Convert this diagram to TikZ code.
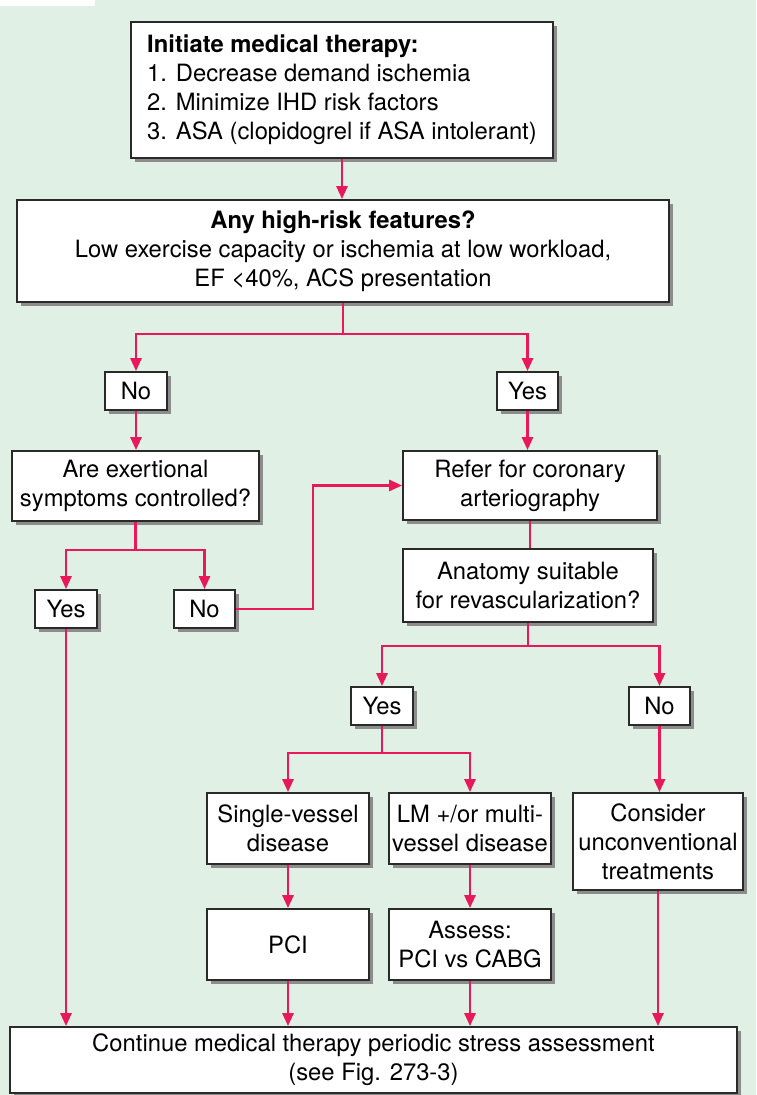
\documentclass[tikz,border=0pt]{standalone}
\usepackage{fontspec}
\setmainfont{TeX Gyre Heros}
\usetikzlibrary{arrows.meta,shadows}
\definecolor{bg}{HTML}{E0F0E4}
\definecolor{arrowc}{HTML}{E8185A}
\definecolor{boxline}{HTML}{2A2A2A}
\definecolor{shadowc}{HTML}{8C8C8C}
\begin{document}
\begin{tikzpicture}[x=1pt,y=-1pt,
  box/.style={draw=boxline, line width=1.8pt, fill=white,
    drop shadow={shadow xshift=4pt, shadow yshift=-4pt, fill=shadowc, opacity=1},
    align=center, inner sep=0pt, font=\fontsize{23.8}{29}\selectfont},
  wire/.style={draw=arrowc, line width=2.7pt},
  arr/.style={wire, -{Triangle[length=13pt,width=11pt]}}]
\fill[bg] (0,0) rectangle (756,1095);
\useasboundingbox (0,0) rectangle (756,1095);
\fill[white] (0,0) rectangle (95,6);

\node[box, minimum width=422pt, minimum height=136pt, align=left] (b1) at (342,90)
  {\textbf{Initiate medical therapy:}\\1. Decrease demand ischemia\\2. Minimize IHD risk factors\\3. ASA (clopidogrel if ASA intolerant)};
\node[box, minimum width=652pt, minimum height=102pt] (b2) at (343,251)
  {\textbf{Any high-risk features?}\\Low exercise capacity or ischemia at low workload,\\EF <40\%, ACS presentation};
\node[box, minimum width=62pt, minimum height=38pt] (no1) at (136,391) {No};
\node[box, minimum width=61pt, minimum height=38pt] (yes1) at (527.5,391) {Yes};
\node[box, minimum width=247pt, minimum height=70pt] (ex) at (135.5,486) {Are exertional\\symptoms controlled?};
\node[box, minimum width=254pt, minimum height=69pt] (ref) at (530,485.5) {Refer for coronary\\arteriography};
\node[box, minimum width=250pt, minimum height=73pt] (an) at (528,585.5) {Anatomy suitable\\for revascularization?};
\node[box, minimum width=62pt, minimum height=38pt] (yes2) at (66,609) {Yes};
\node[box, minimum width=61pt, minimum height=38pt] (no2) at (204.5,609) {No};
\node[box, minimum width=62pt, minimum height=38pt] (yes3) at (382,706) {Yes};
\node[box, minimum width=61pt, minimum height=38pt] (no3) at (659.5,706) {No};
\node[box, minimum width=162pt, minimum height=71pt] (sv) at (288,828.5) {Single-vessel\\disease};
\node[box, minimum width=162pt, minimum height=71pt] (lm) at (470,828.5) {LM +/or multi-\\vessel disease};
\node[box, minimum width=170pt, minimum height=97pt] (con) at (658,841.5) {Consider\\unconventional\\treatments};
\node[box, minimum width=162pt, minimum height=71pt] (pci) at (288,944.5) {PCI};
\node[box, minimum width=162pt, minimum height=71pt] (as) at (470,944.5) {Assess:\\PCI vs CABG};
\node[box, minimum width=727pt, minimum height=66pt] (bot) at (373.5,1060) {Continue medical therapy periodic stress assessment\\(see Fig. 273-3)};

\draw[arr] (b1.south) -- (b1.south |- b2.north);
\draw[arr] (b2.south) -- ++(0,31) -| (no1.north);
\draw[arr] (b2.south) -- ++(0,31) -| (yes1.north);
\draw[arr] (no1.south) -- (no1.south |- ex.north);
\draw[arr] (yes1.south) -- (yes1.south |- ref.north);
\draw[arr] (ex.south) -- ++(0,28) -| (yes2.north);
\draw[arr] (ex.south) -- ++(0,28) -| (no2.north);
\draw[arr] (no2.east) -- ++(77,0) |- (ref.west);
\draw[arr] (yes2.south) -- (yes2.south |- bot.north);
\draw[wire] (ref.south) -- (ref.south |- an.north);
\draw[arr] (an.south) -- ++(0,23) -| (yes3.north);
\draw[arr] (an.south) -- ++(0,23) -| (no3.north);
\draw[arr] (yes3.south) -- ++(0,27) -| (sv.north);
\draw[arr] (yes3.south) -- ++(0,27) -| (lm.north);
\draw[arr] (no3.south) -- (no3.south |- con.north);
\draw[arr] (sv.south) -- (pci.north);
\draw[arr] (lm.south) -- (as.north);
\draw[arr] (pci.south) -- (pci.south |- bot.north);
\draw[arr] (as.south) -- (as.south |- bot.north);
\draw[arr] (con.south) -- (con.south |- bot.north);
\end{tikzpicture}
\end{document}
